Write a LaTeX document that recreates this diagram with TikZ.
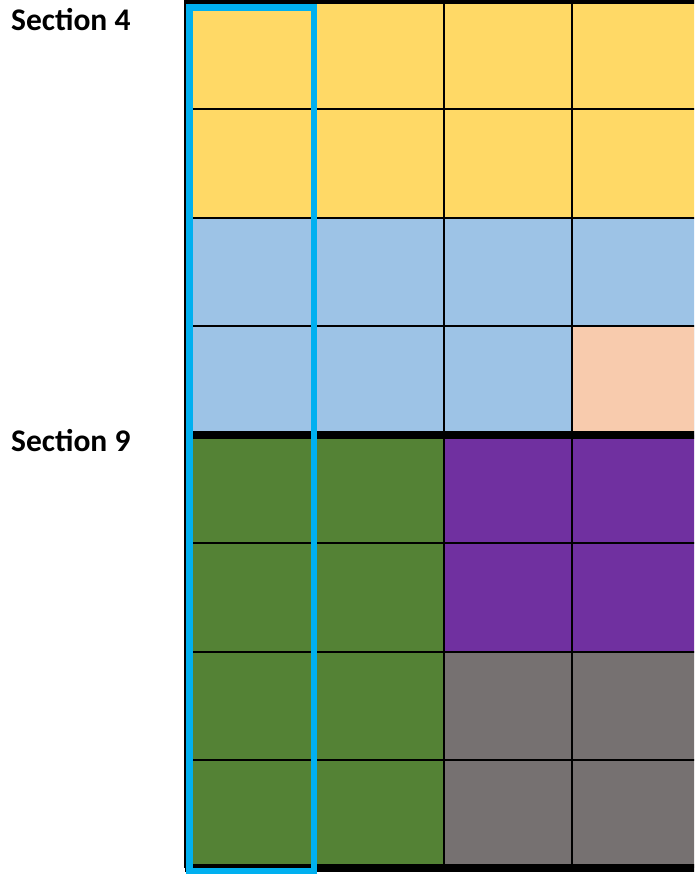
\documentclass[tikz,border=0pt]{standalone}
\usepackage{fontspec}
\setmainfont{Carlito}
\usetikzlibrary{positioning}
\definecolor{CellGold}{RGB}{255,217,102}
\definecolor{CellSky}{RGB}{157,195,230}
\definecolor{CellPeach}{RGB}{248,203,173}
\definecolor{CellGreen}{RGB}{84,130,53}
\definecolor{CellPurple}{RGB}{112,48,160}
\definecolor{CellGray}{RGB}{118,113,113}
\definecolor{FrameCyan}{RGB}{0,176,240}
\tikzset{
  cellline/.style={black,line width=2pt},
  sectionline/.style={black,line width=7.5pt},
  seclabel/.style={font=\fontsize{31.5}{37}\selectfont\bfseries,inner sep=0pt,anchor=base west}
}
\begin{document}
\begin{tikzpicture}[x=1pt,y=-1pt]
  \useasboundingbox (0,0) rectangle (694,875);
  \clip (0,0) rectangle (694,875);
  % cell blocks
  \fill[CellGold] (185,0) rectangle (701,217.5);
  \fill[CellSky] (185,217.5) rectangle (701,435);
  \fill[CellPeach] (572,326.25) rectangle (701,435);
  \fill[CellGreen] (185,435) rectangle (444,868);
  \fill[CellPurple] (444,435) rectangle (701,651.5);
  \fill[CellGray] (444,651.5) rectangle (701,868);
  % grid
  \draw[black,line width=1.5pt] (185,0)--(185,868);
  \foreach \x in {315,444,572}
    \draw[cellline] (\x,0)--(\x,868);
  \foreach \y in {108.75,217.5,326.25,543.25,651.5,759.75}
    \draw[cellline] (185,\y)--(701,\y);
  % section borders
  \foreach \y in {0,435,868}
    \draw[sectionline] (185,\y)--(701,\y);
  % highlighted column
  \draw[FrameCyan,line width=6.5pt] (189.5,7.5) rectangle (314,871);
  \node[seclabel] (secfour) at (11,31) {Section 4};
  \node[seclabel] (secnine) at (11,451) {Section 9};
\end{tikzpicture}
\end{document}
